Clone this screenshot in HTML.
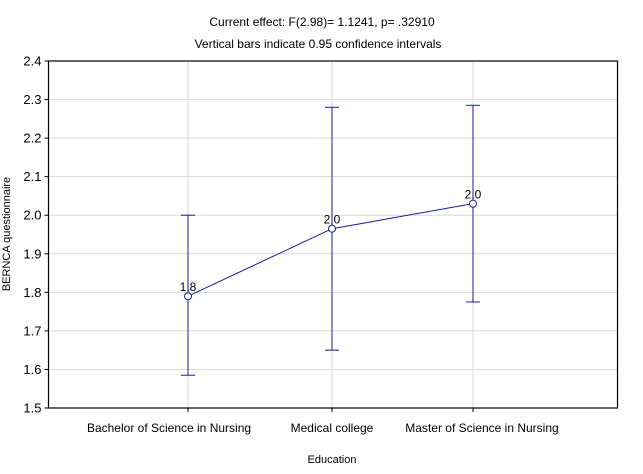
<!DOCTYPE html>
<html><head><meta charset="utf-8"><style>
body{margin:0;background:#fff;font-family:"Liberation Sans",sans-serif}
</style></head><body>
<svg id="c" width="643" height="469" xmlns="http://www.w3.org/2000/svg" font-family="Liberation Sans, sans-serif">
<text x="322" y="26" font-size="12" text-anchor="middle">Current effect: F(2.98)= 1.1241, p= .32910</text>
<text x="318" y="48" font-size="12" text-anchor="middle">Vertical bars indicate 0.95 confidence intervals</text>
<text x="0" y="0" font-size="11" text-anchor="middle" transform="translate(10,234) rotate(-90)">BERNCA questionnaire</text>
<text x="332" y="463" font-size="11" text-anchor="middle">Education</text>
<g id="grid"></g><g id="axes"></g><g id="marks"></g>
</svg>
<script>
const categories=["Bachelor of Science in Nursing","Medical college","Master of Science in Nursing"];
const means=[1.79,1.965,2.03];
const lower=[1.585,1.65,1.775];
const upper=[2.0,2.28,2.285];
const pointLabels=["1.8","2.0","2.0"];
const yTicks=["1.5","1.6","1.7","1.8","1.9","2.0","2.1","2.2","2.3","2.4"];
const NS="http://www.w3.org/2000/svg";
const L=48.5,R=617.5,T=61,B=408,yMin=1.5,yMax=2.4;
const y=v=>B-(v-yMin)/(yMax-yMin)*(B-T);
const xs=[188,332,473];
const labelShift=[-19,0,9];
const x=i=>xs[i];
function mk(tag,a,p){const e=document.createElementNS(NS,tag);for(const k in a)e.setAttribute(k,a[k]);p.appendChild(e);return e;}
const grid=document.getElementById('grid'),axes=document.getElementById('axes'),marks=document.getElementById('marks');
yTicks.forEach(t=>{const v=parseFloat(t),yy=y(v);
 const g=mk('line',{x1:L,x2:R,y1:yy,y2:yy,stroke:'#d8d8d8','stroke-width':1},grid);
 
 
 const tk=mk('line',{x1:L-4,x2:L,y1:yy,y2:yy,stroke:'#000'},axes);
 
 
 const tx=mk('text',{x:L-7,y:yy+4.5,'font-size':13,'text-anchor':'end'},axes);tx.textContent=t;
 
 
});
categories.forEach((c,i)=>{
 const g=mk('line',{x1:x(i),x2:x(i),y1:T,y2:B,stroke:'#d8d8d8'},grid);
 
 
 const tk=mk('line',{x1:x(i),x2:x(i),y1:B,y2:B+4,stroke:'#000'},axes);
 
 
 const tx=mk('text',{x:x(i)+labelShift[i],y:B+24,'font-size':12,'text-anchor':'middle'},axes);tx.textContent=c;
 
 
});
const fr=mk('rect',{x:L,y:T,width:R-L,height:B-T,fill:'none',stroke:'#000','stroke-width':1.2},axes);


const col='#1a1aa0';
const pts=means.map((m,i)=>x(i)+','+y(m)).join(' ');
const pl=mk('polyline',{points:pts,fill:'none',stroke:col,'stroke-width':1},marks);


means.forEach((m,i)=>{
 const g=mk('g',{},marks);
 
 
 mk('line',{x1:x(i),x2:x(i),y1:y(lower[i]),y2:y(upper[i]),stroke:col},g);
 mk('line',{x1:x(i)-7,x2:x(i)+7,y1:y(lower[i]),y2:y(lower[i]),stroke:col},g);
 mk('line',{x1:x(i)-7,x2:x(i)+7,y1:y(upper[i]),y2:y(upper[i]),stroke:col},g);
 const c=mk('circle',{cx:x(i),cy:y(m),r:3.5,fill:'#fff',stroke:col},marks);
 
 
 const t=mk('text',{x:x(i),y:y(m)-5,'font-size':12,'text-anchor':'middle'},marks);t.textContent=pointLabels[i];
 
 
});
</script>
</body></html>
